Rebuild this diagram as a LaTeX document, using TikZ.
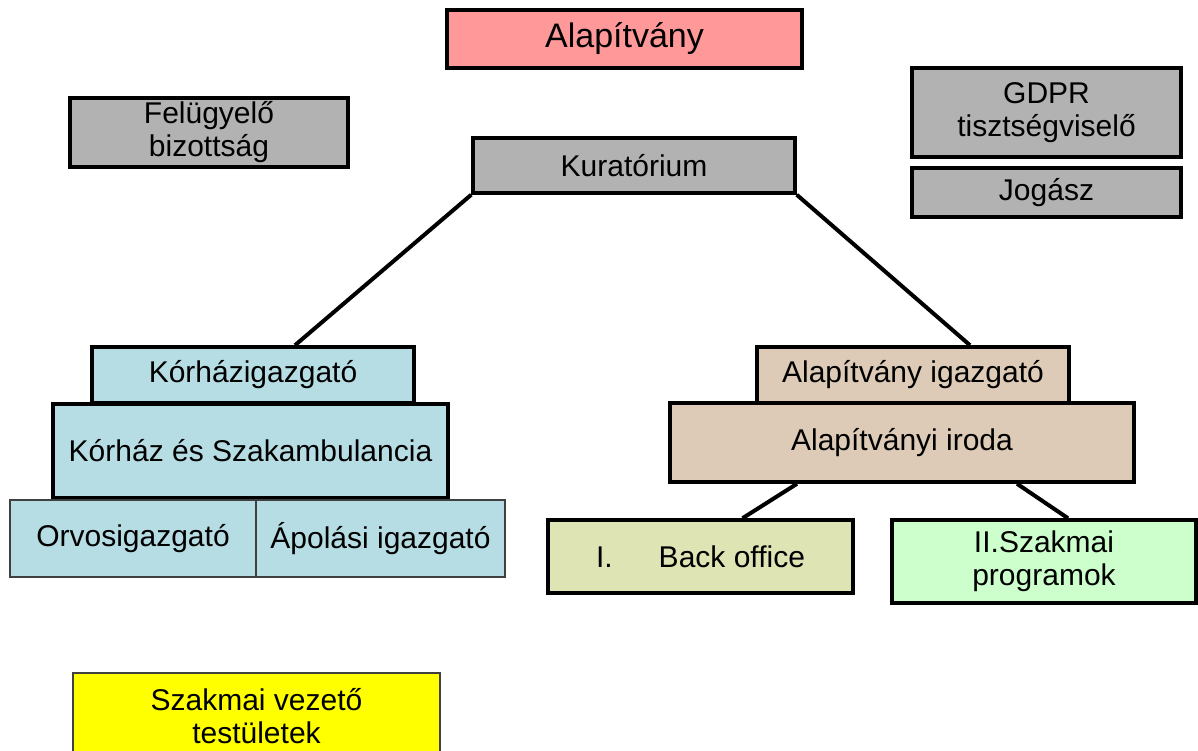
\documentclass[tikz,border=0pt]{standalone}
\usepackage{fontspec}
\setmainfont{Liberation Sans}
\usepackage{xcolor}
\usetikzlibrary{positioning}

\definecolor{alapfill}{HTML}{FF9999}
\definecolor{szurke}{HTML}{B2B2B2}
\definecolor{korhazkek}{HTML}{B6DDE4}
\definecolor{irodabarna}{HTML}{DDCBB7}
\definecolor{backolive}{HTML}{DFE4B5}
\definecolor{programzold}{HTML}{CCFFCC}
\definecolor{vezetosarga}{HTML}{FFFF00}

\tikzset{
  doboz/.style={draw=black, line width=3.5pt, inner sep=0pt, align=center,
    font=\fontsize{30}{33}\selectfont},
  vekony/.style={draw=black!75, line width=1.3pt, inner sep=0pt, align=center,
    font=\fontsize{30}{33}\selectfont},
  vonal/.style={line width=4pt}
}

\begin{document}
\begin{tikzpicture}[x=1pt,y=-1pt]
\useasboundingbox (0,0) rectangle (1198,751);
\clip (0,0) rectangle (1198,751);

%Top
\node[doboz, fill=alapfill, minimum width=355, minimum height=58,
  font=\fontsize{34}{38}\selectfont] (alap) at (624.5,39) {Alapítvány};
\node[doboz, fill=szurke, minimum width=278, minimum height=69] (felugy) at (209,132.5) {Felügyelő\\bizottság};
\node[doboz, fill=szurke, minimum width=322, minimum height=55] (kurat) at (634,165.5) {Kuratórium};
\node[doboz, fill=szurke, minimum width=269, minimum height=89] (gdpr) at (1046.5,112.5) {GDPR\\tisztségviselő};
\node[doboz, fill=szurke, minimum width=269, minimum height=49] (jogasz) at (1046.5,192.5) {Jogász};

%Left side
\node[doboz, fill=korhazkek, minimum width=322, minimum height=56] (korigazg) at (253,375) {Kórházigazgató};
\node[doboz, fill=korhazkek, minimum width=395, minimum height=94] (korhaz) at (250.5,451) {Kórház és Szakambulancia};
\node[vekony, fill=korhazkek, minimum width=246, minimum height=77] (orvos) at (133,538.5) {Orvosigazgató};
\node[vekony, fill=korhazkek, minimum width=249, minimum height=77] (apolas) at (380.5,538.5) {Ápolási igazgató};

%Right side
\node[doboz, fill=irodabarna, minimum width=312, minimum height=56] (alapigazg) at (913,375) {Alapítvány igazgató};
\node[doboz, fill=irodabarna, minimum width=464, minimum height=79] (iroda) at (902,442.5) {Alapítványi iroda};
\node[doboz, fill=backolive, minimum width=305, minimum height=73] (back) at (700.5,556.5) {I.\hspace*{46pt}Back office};
\node[doboz, fill=programzold, minimum width=304, minimum height=83] (program) at (1044,561.5) {II.Szakmai\\programok};

%Bottom
\node[vekony, fill=vezetosarga, minimum width=367, minimum height=87] (vezeto) at (256.5,716.5) {Szakmai vezető\\testületek};

%Lines
\draw[vonal] (kurat.south west) -- ([xshift=42pt]korigazg.north);
\draw[vonal] (kurat.south east) -- ([xshift=57pt]alapigazg.north);
\draw[vonal] ([xshift=-105pt]iroda.south) -- ([xshift=42pt]back.north);
\draw[vonal] ([xshift=115pt]iroda.south) -- ([xshift=24pt]program.north);
\end{tikzpicture}
\end{document}
